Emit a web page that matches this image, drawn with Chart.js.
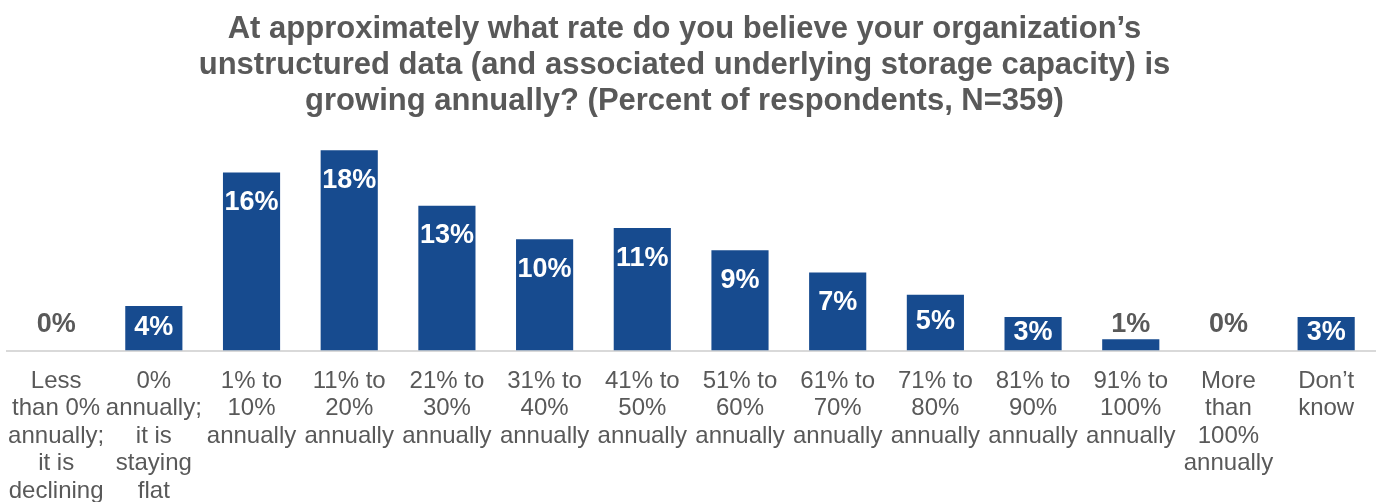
<!DOCTYPE html>
<html><head><meta charset="utf-8">
<script src="https://cdn.jsdelivr.net/npm/chart.js@4.4.1/dist/chart.umd.min.js"></script>
<style>html,body{margin:0;padding:0;background:#fff;overflow:hidden;width:1377px;height:502px}#wrap{width:1386px;height:522px;margin-left:-9px}</style>
</head><body><div id="wrap"><canvas id="c"></canvas></div>
<script>
const categories = [
  ["Less","than 0%","annually;","it is","declining"],
  ["0%","annually;","it is","staying","flat"],
  ["1% to","10%","annually"],
  ["11% to","20%","annually"],
  ["21% to","30%","annually"],
  ["31% to","40%","annually"],
  ["41% to","50%","annually"],
  ["51% to","60%","annually"],
  ["61% to","70%","annually"],
  ["71% to","80%","annually"],
  ["81% to","90%","annually"],
  ["91% to","100%","annually"],
  ["More","than","100%","annually"],
  ["Don\u2019t","know"]
];
const values = [0, 4, 16, 18, 13, 10, 11, 9, 7, 5, 3, 1, 0, 3];
const titleLines = [
  "At approximately what rate do you believe your organization\u2019s",
  "unstructured data (and associated underlying storage capacity) is",
  "growing annually? (Percent of respondents, N=359)"
];
const FONT = "'Liberation Sans', Arial, sans-serif";
const GRAY = "#595959";
const BLUE = "#174b8f";

const labelPlugin = {
  id: "barLabels",
  afterDatasetsDraw(chart) {
    const ctx = chart.ctx;
    const meta = chart.getDatasetMeta(0);
    const base = chart.scales.y.getPixelForValue(0);
    ctx.save();
    ctx.font = "bold 27px " + FONT;
    ctx.textAlign = "center";
    ctx.textBaseline = "middle";
    meta.data.forEach((bar, i) => {
      const v = values[i];
      const txt = v + "%";
      let y;
      if (v >= 2) {
        y = Math.min(bar.y + 30, (bar.y + base) / 2 - 1);
        ctx.fillStyle = "#ffffff";
      } else {
        y = base - 26;
        ctx.fillStyle = GRAY;
      }
      ctx.fillText(txt, bar.x, y);
    });
    ctx.restore();
  }
};

new Chart(document.getElementById("c"), {
  type: "bar",
  data: {
    labels: categories,
    datasets: [{
      data: values,
      backgroundColor: BLUE,
      categoryPercentage: 1,
      barPercentage: 0.585
    }]
  },
  options: {
    responsive: true,
    maintainAspectRatio: false,
    animation: false,
    layout: { padding: { left: 3, right: 2, top: 11, bottom: 0 } },
    plugins: {
      legend: { display: false },
      tooltip: { enabled: false },
      title: {
        display: true,
        text: titleLines,
        color: GRAY,
        font: { family: FONT, size: 31, weight: "bold", lineHeight: "36px" },
        padding: { top: 0, bottom: 19 }
      }
    },
    scales: {
      x: {
        grid: { display: false, drawTicks: false },
        border: { display: true, color: "#d9d9d9", width: 2 },
        ticks: {
          color: GRAY,
          font: { family: FONT, size: 24, lineHeight: "27.5px" },
          padding: 17,
          autoSkip: false,
          maxRotation: 0,
          minRotation: 0
        }
      },
      y: {
        display: false,
        min: 0,
        max: 19.1
      }
    }
  },
  plugins: [labelPlugin]
});
</script>
</body></html>
